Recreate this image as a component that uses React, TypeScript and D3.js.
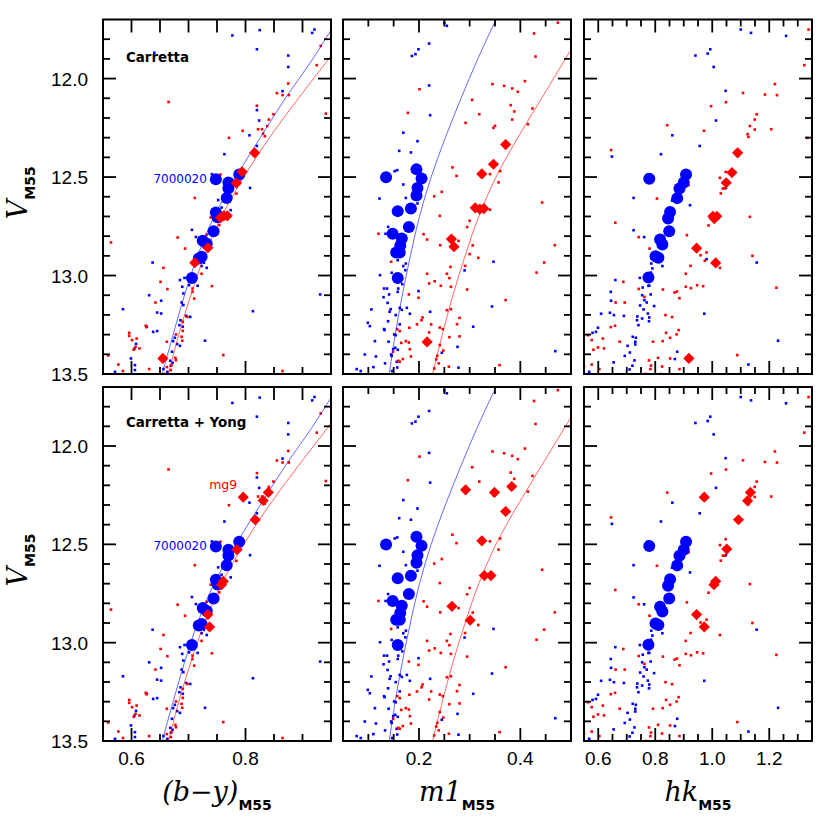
import React from 'react';
import * as d3 from 'd3';

// ---- data: [colour index, V] pairs ----

// (b-y) column, small dots (shared by both rows)
const byBlueDots = [
  [0.640, 11.869], [0.777, 11.781], [0.825, 11.754], [0.820, 11.851], [0.875, 11.883], [0.875, 11.941],
  [0.917, 11.768], [0.921, 11.751], [0.865, 12.064], [0.820, 12.160], [0.824, 12.213], [0.807, 12.288],
  [0.820, 12.342], [0.763, 12.384], [0.808, 12.555], [0.741, 12.485],
  [0.752, 12.617], [0.758, 12.655], [0.774, 12.668], [0.706, 12.768], [0.713, 12.804], [0.637, 12.934],
  [0.685, 13.023], [0.693, 13.012], [0.689, 13.057], [0.701, 13.049], [0.716, 13.052], [0.723, 12.952],
  [0.727, 12.935], [0.732, 12.961], [0.691, 13.091], [0.688, 13.137], [0.691, 13.150], [0.703, 13.210],
  [0.696, 13.205], [0.686, 13.227], [0.684, 13.252], [0.690, 13.260], [0.676, 13.316], [0.673, 13.333],
  [0.680, 13.348], [0.685, 13.357], [0.671, 13.387], [0.668, 13.433], [0.672, 13.443], [0.669, 13.458],
  [0.656, 13.475], [0.663, 13.489], [0.631, 13.100], [0.652, 13.128], [0.645, 13.188], [0.652, 13.193],
  [0.638, 13.286], [0.645, 13.282], [0.627, 13.260], [0.608, 13.347], [0.605, 13.372], [0.585, 13.171],
  [0.599, 13.421], [0.606, 13.455], [0.606, 13.480], [0.571, 13.489], [0.729, 13.331], [0.813, 13.181],
  [0.931, 13.096],
];
const byRedDots = [
  [0.665, 12.119], [0.932, 11.834], [0.925, 11.932], [0.941, 12.178], [0.875, 12.025], [0.855, 12.074],
  [0.865, 12.084], [0.876, 12.084], [0.820, 12.138], [0.849, 12.181], [0.841, 12.208], [0.838, 12.241],
  [0.829, 12.257], [0.831, 12.279], [0.834, 12.293], [0.822, 12.257], [0.795, 12.265], [0.771, 12.301],
  [0.756, 12.487], [0.790, 12.524], [0.784, 12.584], [0.711, 12.606],
  [0.739, 12.705], [0.754, 12.744], [0.681, 12.807], [0.564, 12.832], [0.694, 12.863], [0.656, 12.961],
  [0.651, 13.032], [0.663, 13.069], [0.642, 13.137], [0.625, 13.255], [0.626, 13.262], [0.596, 13.291],
  [0.596, 13.306], [0.609, 13.320], [0.601, 13.328], [0.607, 13.362], [0.614, 13.370], [0.604, 13.377],
  [0.559, 13.406], [0.577, 13.452], [0.585, 13.485], [0.631, 13.475], [0.741, 13.054], [0.761, 13.404],
  [0.865, 13.485], [0.723, 12.991], [0.707, 13.066], [0.707, 13.083], [0.710, 13.117], [0.698, 13.210],
  [0.690, 13.235], [0.690, 13.281], [0.688, 13.311], [0.689, 13.331], [0.678, 13.299], [0.662, 13.336],
  [0.677, 13.418], [0.678, 13.430], [0.670, 13.455], [0.662, 13.465], [0.669, 13.480], [0.659, 13.500],
  [0.732, 12.792],
];
const byCircles = [
  [0.748, 12.511], [0.789, 12.487], [0.770, 12.528], [0.770, 12.557], [0.767, 12.606], [0.748, 12.680],
  [0.751, 12.704], [0.744, 12.775], [0.725, 12.824], [0.732, 12.839], [0.723, 12.905], [0.718, 12.913],
  [0.706, 13.012],
];
const byDiamondsTop = [
  [0.816, 12.377], [0.794, 12.473], [0.784, 12.531], [0.756, 12.707], [0.762, 12.697], [0.768, 12.697],
  [0.734, 12.859], [0.711, 12.935], [0.655, 13.421],
];
const byDiamondsBottom = [
  [0.796, 12.260], [0.831, 12.277], [0.840, 12.236], [0.817, 12.375], [0.785, 12.527], [0.758, 12.705],
  [0.761, 12.688], [0.734, 12.857], [0.737, 12.920],
];
const byBlueCurve = [
  [0.652, 13.52], [0.673, 13.3], [0.693, 13.1], [0.716, 12.9], [0.745, 12.7], [0.783, 12.5],
  [0.826, 12.3], [0.870, 12.1], [0.918, 11.9], [0.953, 11.74],
];
const byRedCurve = [
  [0.663, 13.52], [0.683, 13.3], [0.704, 13.1], [0.728, 12.9], [0.758, 12.7], [0.797, 12.5],
  [0.842, 12.3], [0.893, 12.1], [0.946, 11.9], [0.972, 11.8],
];

// m1 column
const m1BlueDots = [
  [0.250, 11.717], [0.255, 11.732], [0.220, 11.822], [0.199, 11.851], [0.193, 11.876], [0.186, 11.885],
  [0.220, 12.035], [0.222, 12.186], [0.169, 12.275], [0.197, 12.318], [0.161, 12.367], [0.184, 12.375],
  [0.152, 12.470], [0.157, 12.465], [0.169, 12.538], [0.174, 12.606], [0.122, 12.609],
  [0.197, 12.634], [0.139, 12.753], [0.134, 12.788], [0.158, 12.922], [0.169, 12.952], [0.174, 12.939],
  [0.173, 12.973], [0.123, 12.998], [0.167, 13.044], [0.146, 12.986], [0.199, 13.079], [0.131, 13.066],
  [0.137, 13.066], [0.159, 13.066], [0.158, 13.083], [0.141, 13.096], [0.130, 13.110], [0.138, 13.139],
  [0.106, 13.172], [0.144, 13.171], [0.142, 13.184], [0.162, 13.164], [0.166, 13.174], [0.176, 13.164],
  [0.182, 13.194], [0.154, 13.201], [0.222, 13.184], [0.099, 13.240], [0.103, 13.257], [0.139, 13.232],
  [0.162, 13.248], [0.131, 13.272], [0.132, 13.277], [0.151, 13.299], [0.154, 13.303], [0.113, 13.333],
  [0.140, 13.336], [0.153, 13.367], [0.149, 13.374], [0.158, 13.377], [0.093, 13.401], [0.115, 13.411],
  [0.145, 13.401], [0.146, 13.408], [0.133, 13.446], [0.110, 13.465], [0.156, 13.438], [0.157, 13.467],
  [0.147, 13.485], [0.077, 13.475], [0.085, 13.485], [0.347, 12.930], [0.290, 12.974], [0.344, 13.157],
  [0.307, 13.260], [0.276, 13.362], [0.278, 13.468], [0.469, 13.384], [0.245, 13.392],
];
const m1RedDots = [
  [0.474, 11.716], [0.427, 11.771], [0.430, 11.888], [0.201, 12.054], [0.178, 12.174], [0.345, 12.028],
  [0.368, 12.037], [0.384, 12.050], [0.395, 12.067], [0.409, 12.013], [0.305, 12.108], [0.319, 12.181],
  [0.381, 12.135], [0.388, 12.167], [0.384, 12.208], [0.424, 12.152], [0.415, 12.232], [0.292, 12.225],
  [0.350, 12.240], [0.347, 12.250], [0.266, 12.451], [0.274, 12.494], [0.340, 12.485], [0.360, 12.470],
  [0.357, 12.527], [0.245, 12.575], [0.230, 12.598],
  [0.340, 12.666], [0.443, 12.629], [0.241, 12.697], [0.300, 12.722], [0.295, 12.754], [0.120, 12.788],
  [0.209, 12.790], [0.216, 12.817], [0.278, 12.824], [0.242, 12.846], [0.306, 12.847], [0.468, 12.846],
  [0.300, 12.891], [0.317, 12.910], [0.145, 12.930], [0.447, 12.934], [0.262, 12.956], [0.291, 12.951],
  [0.432, 12.985], [0.216, 12.991], [0.255, 12.991], [0.260, 13.013], [0.220, 13.040], [0.231, 13.029],
  [0.243, 13.052], [0.263, 13.057], [0.295, 13.071], [0.180, 13.096], [0.199, 13.113], [0.371, 13.125],
  [0.255, 13.176], [0.263, 13.171], [0.207, 13.213], [0.205, 13.227], [0.196, 13.248], [0.224, 13.248],
  [0.181, 13.265], [0.241, 13.264], [0.275, 13.247], [0.280, 13.215], [0.247, 13.272], [0.162, 13.282],
  [0.157, 13.272], [0.220, 13.289], [0.260, 13.313], [0.280, 13.309], [0.174, 13.333], [0.180, 13.340],
  [0.165, 13.342], [0.241, 13.353], [0.182, 13.374], [0.248, 13.381], [0.149, 13.387], [0.236, 13.408],
  [0.234, 13.426], [0.184, 13.411], [0.168, 13.424], [0.162, 13.438], [0.159, 13.433], [0.239, 13.446],
  [0.230, 13.472], [0.259, 13.463], [0.359, 13.455],
];
const m1Circles = [
  [0.135, 12.501], [0.195, 12.461], [0.205, 12.507], [0.197, 12.555], [0.195, 12.594], [0.158, 12.673],
  [0.184, 12.660], [0.180, 12.753], [0.148, 12.788], [0.166, 12.812], [0.163, 12.849], [0.155, 12.883],
  [0.162, 12.883], [0.158, 13.012],
];
const m1DiamondsTop = [
  [0.371, 12.335], [0.347, 12.435], [0.324, 12.484], [0.311, 12.656], [0.320, 12.663], [0.328, 12.660],
  [0.264, 12.815], [0.269, 12.854], [0.216, 13.337],
];
const m1DiamondsBottom = [
  [0.292, 12.223], [0.349, 12.236], [0.383, 12.206], [0.371, 12.333], [0.324, 12.482], [0.329, 12.659],
  [0.342, 12.659], [0.265, 12.815], [0.301, 12.886],
];
const m1BlueCurve = [
  [0.140, 13.52], [0.153, 13.3], [0.167, 13.1], [0.183, 12.9], [0.201, 12.7], [0.224, 12.5],
  [0.252, 12.3], [0.283, 12.1], [0.316, 11.9], [0.352, 11.7],
];
const m1RedCurve = [
  [0.225, 13.52], [0.246, 13.3], [0.267, 13.1], [0.291, 12.9], [0.318, 12.7], [0.352, 12.5],
  [0.395, 12.3], [0.442, 12.1], [0.489, 11.9], [0.513, 11.8],
];

// hk column
const hkBlueDots = [
  [1.100, 11.751], [1.136, 11.768], [1.259, 11.783], [0.941, 11.883], [0.984, 11.873], [0.993, 11.851],
  [1.005, 11.941], [1.047, 12.062], [1.013, 12.213], [0.860, 12.288], [0.956, 12.342], [0.648, 12.396],
  [0.820, 12.384], [0.773, 12.487], [1.048, 12.555], [0.724, 12.606],
  [0.859, 12.619], [0.922, 12.643], [0.724, 12.770], [0.761, 12.805], [0.980, 12.917], [1.156, 12.934],
  [0.786, 12.939], [0.825, 12.952], [0.790, 12.964], [0.785, 12.985], [0.746, 13.012], [0.776, 13.052],
  [0.779, 13.052], [0.756, 13.061], [0.660, 13.023], [0.644, 13.083], [0.754, 13.100], [0.784, 13.096],
  [0.762, 13.125], [0.770, 13.137], [0.645, 13.128], [0.747, 13.152], [0.796, 13.155], [0.759, 13.172],
  [0.610, 13.194], [0.641, 13.189], [0.655, 13.201], [0.690, 13.205], [0.737, 13.208], [0.774, 13.193],
  [0.779, 13.213], [0.754, 13.218], [0.736, 13.227], [0.778, 13.232], [0.741, 13.252], [0.972, 13.194],
  [0.599, 13.265], [0.592, 13.286], [0.580, 13.291], [0.721, 13.311], [0.732, 13.316], [0.730, 13.336],
  [0.730, 13.350], [0.703, 13.357], [0.711, 13.391], [0.693, 13.408], [0.877, 13.387], [0.869, 13.424],
  [0.727, 13.431], [0.720, 13.458], [0.710, 13.477], [0.654, 13.441], [0.568, 13.489], [1.127, 13.452],
  [1.231, 13.331],
];
const hkRedDots = [
  [1.338, 11.751], [1.323, 11.932], [1.220, 12.028], [1.185, 12.081], [1.227, 12.084], [1.108, 12.073],
  [1.048, 12.120], [0.996, 12.140], [1.156, 12.181], [1.149, 12.208], [1.132, 12.241], [1.149, 12.259],
  [1.207, 12.257], [1.124, 12.282], [1.127, 12.296], [1.334, 12.301], [0.842, 12.237], [0.971, 12.265],
  [0.645, 12.363], [1.047, 12.474], [1.027, 12.504], [0.917, 12.541], [1.037, 12.558], [1.044, 12.558],
  [1.030, 12.583], [0.806, 12.609],
  [0.660, 12.732], [0.742, 12.805], [0.780, 12.863], [0.911, 12.795], [0.959, 12.897], [0.980, 12.883],
  [0.974, 12.925], [1.027, 12.961], [1.132, 12.702], [0.987, 12.746], [1.141, 12.900], [0.924, 12.951],
  [0.907, 12.991], [0.688, 13.032], [0.742, 13.068], [0.827, 13.071], [0.907, 13.057], [0.925, 13.064],
  [0.947, 13.049], [0.968, 13.054], [0.868, 13.086], [0.876, 13.081], [0.885, 13.115], [0.762, 13.108],
  [0.693, 13.137], [0.661, 13.137], [1.225, 13.062], [0.836, 13.201], [0.859, 13.211], [0.659, 13.255],
  [0.644, 13.262], [0.838, 13.291], [0.882, 13.277], [0.875, 13.299], [0.852, 13.316], [0.826, 13.333],
  [0.792, 13.336], [0.675, 13.336], [0.616, 13.320], [0.564, 13.303], [0.577, 13.328], [0.599, 13.365],
  [0.620, 13.370], [0.583, 13.377], [1.088, 13.404], [0.810, 13.418], [0.852, 13.421], [0.778, 13.431],
  [0.785, 13.457], [0.783, 13.475], [0.824, 13.462], [0.885, 13.475], [0.577, 13.452], [0.604, 13.475],
  [0.550, 13.463], [0.766, 13.500], [0.818, 13.500],
];
const hkCircles = [
  [0.779, 12.509], [0.908, 12.487], [0.900, 12.528], [0.885, 12.558], [0.877, 12.607], [0.852, 12.677],
  [0.845, 12.710], [0.849, 12.775], [0.817, 12.817], [0.825, 12.842], [0.801, 12.902], [0.811, 12.910],
  [0.776, 13.010],
];
const hkDiamondsTop = [
  [1.089, 12.377], [1.069, 12.477], [1.049, 12.529], [1.002, 12.699], [1.016, 12.699], [1.007, 12.711],
  [0.945, 12.861], [1.012, 12.936], [0.918, 13.421],
];
const hkDiamondsBottom = [
  [0.972, 12.260], [1.134, 12.236], [1.124, 12.279], [1.092, 12.375], [1.051, 12.524], [1.006, 12.705],
  [1.012, 12.688], [0.945, 12.857], [0.972, 12.920],
];

const vDomain = [11.7, 13.5];
const vTickLabels = ['12.0', '12.5', '13.0', '13.5'];
const rowTitles = ['Carretta', 'Carretta + Yong'];
const starLabel = '7000020';
const mgLabel = 'mg9';

// ---- layout ----
const BLUE = '#0000ff';
const RED = '#ff0000';
const ROWS = [[19.5, 374], [387, 741]];
const COLS = [
  { x0: 103, x1: 331, domain: [0.55, 0.95], labels: ['0.6', '0.8'], title: '(b\u2212y)', topAllMajor: true,
    blue: byBlueDots, red: byRedDots, circles: byCircles, diamonds: [byDiamondsTop, byDiamondsBottom],
    curves: [byBlueCurve, byRedCurve] },
  { x0: 343, x1: 571, domain: [0.05, 0.5], labels: ['0.2', '0.4'], title: 'm1', topAllMajor: false,
    blue: m1BlueDots, red: m1RedDots, circles: m1Circles, diamonds: [m1DiamondsTop, m1DiamondsBottom],
    curves: [m1BlueCurve, m1RedCurve] },
  { x0: 584, x1: 812, domain: [0.55, 1.35], labels: ['0.6', '0.8', '1.0', '1.2'], title: 'hk', topAllMajor: false,
    blue: hkBlueDots, red: hkRedDots, circles: hkCircles, diamonds: [hkDiamondsTop, hkDiamondsBottom],
    curves: [] as number[][][] },
];

const MAJ = 13;
const MIN = 7;
const DOT = 2.6;
const R_CIRCLE = 6;
const R_DIAMOND = 5.6;

function Panel({ ci, ri }: { ci: number; ri: number }) {
  const c = COLS[ci];
  const [y0, y1] = ROWS[ri];
  const x = d3.scaleLinear().domain(c.domain).range([c.x0, c.x1]);
  const y = d3.scaleLinear().domain(vDomain).range([y0, y1]);
  const id = `clip-${ci}-${ri}`;

  // x ticks every 0.05, major every 0.2
  const xt: { v: number; major: boolean }[] = [];
  for (let k = Math.ceil(c.domain[0] * 20 + 1e-6); k <= Math.floor(c.domain[1] * 20 - 1e-6); k++) {
    xt.push({ v: k / 20, major: k % 4 === 0 });
  }
  // V ticks every 0.1, major every 0.5
  const yt: { v: number; major: boolean }[] = [];
  for (let k = 118; k <= 134; k++) yt.push({ v: k / 10, major: k % 5 === 0 });

  const line = d3.line<number[]>().x(d => x(d[0])).y(d => y(d[1])).curve(d3.curveCatmullRom);
  const diamonds = c.diamonds[ri];
  const dr = R_DIAMOND;

  return (
    <g>
      <defs>
        <clipPath id={id}>
          <rect x={c.x0} y={y0} width={c.x1 - c.x0} height={y1 - y0} />
        </clipPath>
      </defs>
      <g clipPath={`url(#${id})`}>
        {c.blue.map((d, i) => (
          <rect key={'b' + i} x={x(d[0]) - DOT / 2} y={y(d[1]) - DOT / 2} width={DOT} height={DOT} fill={BLUE} />
        ))}
        {c.red.map((d, i) => (
          <rect key={'r' + i} x={x(d[0]) - DOT / 2} y={y(d[1]) - DOT / 2} width={DOT} height={DOT} fill={RED} />
        ))}
        {c.curves.map((cv, i) => (
          <path key={'c' + i} d={line(cv) || ''} fill="none" stroke={i === 0 ? BLUE : RED}
            strokeWidth={0.8} strokeOpacity={0.75} />
        ))}
        {c.circles.map((d, i) => (
          <circle key={'o' + i} cx={x(d[0])} cy={y(d[1])} r={R_CIRCLE} fill={BLUE} />
        ))}
        {diamonds.map((d, i) => (
          <path key={'d' + i} transform={`translate(${x(d[0])},${y(d[1])})`}
            d={`M0,${-dr}L${dr},0L0,${dr}L${-dr},0Z`} fill={RED} />
        ))}
      </g>

      {/* inward ticks on all four sides */}
      <g stroke="#000" strokeWidth={1.8}>
        {xt.map((t, i) => {
          const px = x(t.v);
          const len = t.major ? MAJ : MIN;
          const topLen = c.topAllMajor ? MAJ : len;
          return (
            <g key={'xt' + i}>
              <line x1={px} x2={px} y1={y1} y2={y1 - len} />
              <line x1={px} x2={px} y1={y0} y2={y0 + topLen} />
            </g>
          );
        })}
        {yt.map((t, i) => {
          const py = y(t.v);
          const len = t.major ? MAJ : MIN;
          return (
            <g key={'yt' + i}>
              <line x1={c.x0} x2={c.x0 + len} y1={py} y2={py} />
              <line x1={c.x1} x2={c.x1 - len} y1={py} y2={py} />
            </g>
          );
        })}
      </g>
      <rect x={c.x0} y={y0} width={c.x1 - c.x0} height={y1 - y0} fill="none" stroke="#000" strokeWidth={2} />

      {ci === 0 && (
        <g>
          {vTickLabels.map(s => (
            <text key={s} x={88} y={y(+s) + 7} textAnchor="end" fontFamily="Liberation Sans, Arial, sans-serif"
              fontSize={19}>{s}</text>
          ))}
          <text x={126} y={ri === 0 ? 62 : 426.5} fontFamily="DejaVu Sans, sans-serif" fontWeight="bold"
            fontSize={13.4}>{rowTitles[ri]}</text>
          <text x={x(byCircles[0][0]) - 9} y={y(byCircles[0][1]) + 4} textAnchor="end"
            fontFamily="DejaVu Sans, sans-serif" fontSize={12} fill={BLUE}>{starLabel}</text>
          {ri === 1 && (
            <text x={x(byDiamondsBottom[0][0]) - 6} y={y(byDiamondsBottom[0][1]) - 8} textAnchor="end"
              fontFamily="DejaVu Sans, sans-serif" fontSize={12.5} fill={RED}>{mgLabel}</text>
          )}
          <text transform={`translate(27,${(y0 + y1) / 2 - 4}) rotate(-90)`} textAnchor="middle">
            <tspan fontFamily="DejaVu Serif, serif" fontStyle="italic" fontSize={27}>V</tspan>
            <tspan fontFamily="DejaVu Sans, sans-serif" fontWeight="bold" fontSize={14} dy={8}>M55</tspan>
          </text>
        </g>
      )}

      {ri === 1 && (
        <g>
          {c.labels.map(s => (
            <text key={s} x={x(+s)} y={765} textAnchor="middle" fontFamily="Liberation Sans, Arial, sans-serif"
              fontSize={19}>{s}</text>
          ))}
          <text x={(c.x0 + c.x1) / 2} y={801} textAnchor="middle">
            <tspan fontFamily="DejaVu Serif, serif" fontStyle="italic" fontSize={27}>{c.title}</tspan>
            <tspan fontFamily="DejaVu Sans, sans-serif" fontWeight="bold" fontSize={14} dy={9}>M55</tspan>
          </text>
        </g>
      )}
    </g>
  );
}

export default function App() {
  return (
    <svg width={830} height={830} style={{ position: 'absolute', left: 0, top: 0, background: '#fff' }}>
      <rect width={830} height={830} fill="#fff" />
      {[0, 1].map(ri => [0, 1, 2].map(ci => <Panel key={`${ri}-${ci}`} ci={ci} ri={ri} />))}
    </svg>
  );
}
